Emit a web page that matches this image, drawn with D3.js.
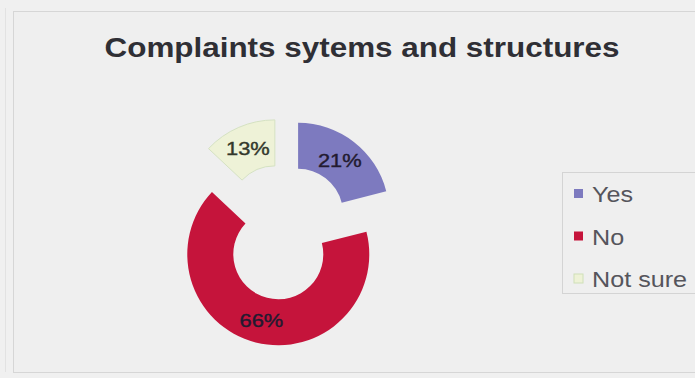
<!DOCTYPE html>
<html>
<head>
<meta charset="utf-8">
<script src="https://cdn.jsdelivr.net/npm/d3@7"></script>
<style>
  html, body { margin: 0; padding: 0; background: #f0f0f0; }
  svg { display: block; }
</style>
</head>
<body>
<svg id="chart" width="695" height="378"></svg>
<script>
// Survey answers: are complaint systems and structures in place?
const categories = ["Yes", "No", "Not sure"];
const values = [21, 66, 13];
const valueLabels = ["21%", "66%", "13%"];
const sliceColors = ["#7d7abf", "#c5143b", "#eef2d7"];
const titleText = "Complaints sytems and structures";

const svg = d3.select("#chart");
const W = 695, H = 378;

svg.append("rect").attr("width", W).attr("height", H).attr("fill", "#f0f0f0");

// chart frame
svg.append("rect")
  .attr("x", 13.5).attr("y", 11.5)
  .attr("width", W).attr("height", 361)
  .attr("fill", "#efefef")
  .attr("stroke", "#d6d6d6").attr("stroke-width", 1);
svg.append("line")
  .attr("x1", 5.5).attr("x2", 5.5).attr("y1", 8).attr("y2", 372)
  .attr("stroke", "#e2e2e2");

// widen text horizontally by a fixed factor
function stretch(sel, factor) {
  sel.each(function () {
    const w = this.getComputedTextLength();
    d3.select(this).attr("textLength", w * factor).attr("lengthAdjust", "spacingAndGlyphs");
  });
}

// title
svg.append("text")
  .attr("x", 362).attr("y", 57)
  .attr("text-anchor", "middle")
  .attr("font-family", "Liberation Sans, Arial, sans-serif")
  .attr("font-weight", "bold")
  .attr("font-size", 28)
  .attr("fill", "#2f2f35")
  .attr("textLength", 515)
  .attr("lengthAdjust", "spacingAndGlyphs")
  .text(titleText);

// exploded doughnut
const cx = 284, cy = 232;
const outerR = 91, innerR = 45, explode = 23;

const pie = d3.pie().sort(null).value(d => d.value).startAngle(0).endAngle(2 * Math.PI);
const arc = d3.arc().innerRadius(innerR).outerRadius(outerR);
const data = categories.map((c, i) => ({ name: c, value: values[i], label: valueLabels[i], color: sliceColors[i] }));
const arcs = pie(data);

const g = svg.append("g").attr("transform", `translate(${cx},${cy})`);
const slices = g.selectAll("g.slice").data(arcs).join("g")
  .attr("class", "slice")
  .attr("transform", d => {
    const a = (d.startAngle + d.endAngle) / 2;
    return `translate(${explode * Math.sin(a)},${-explode * Math.cos(a)})`;
  });

slices.append("path")
  .attr("d", arc)
  .attr("fill", d => d.data.color)
  .attr("stroke", d => d.data.name === "Not sure" ? "#d5e2c2" : "none")
  .attr("stroke-width", 1);

slices.append("text")
  .attr("transform", d => {
    const [x, y] = arc.centroid(d);
    return `translate(${x},${y + 7})`;
  })
  .attr("text-anchor", "middle")
  .attr("font-family", "Liberation Sans, Arial, sans-serif")
  .attr("font-size", 19)
  .attr("stroke-width", 0.4)
  .attr("stroke", d => d.data.name === "Not sure" ? "#33382c" : "#231a30")
  .attr("fill", d => d.data.name === "Not sure" ? "#33382c" : "#231a30")
  .text(d => d.data.label)
  .call(stretch, 1.15);

// legend
const legend = svg.append("g");
legend.append("rect")
  .attr("x", 562.5).attr("y", 172.5)
  .attr("width", 200).attr("height", 121)
  .attr("fill", "#efefef")
  .attr("stroke", "#d4d4d4");

const legendY = d3.scalePoint().domain(categories).range([202, 287]);
const items = legend.selectAll("g.item").data(data).join("g").attr("class", "item");
items.append("rect")
  .attr("x", 574).attr("y", d => legendY(d.name) - 13)
  .attr("width", 9).attr("height", 9)
  .attr("fill", d => d.color)
  .attr("stroke", d => d.name === "Not sure" ? "#cfe0b8" : "none");
items.append("text")
  .attr("x", 592).attr("y", d => legendY(d.name))
  .attr("font-family", "Liberation Sans, Arial, sans-serif")
  .attr("font-size", 21.5)
  .attr("fill", "#55555c")
  .text(d => d.name)
  .call(stretch, 1.17);
</script>
</body>
</html>
